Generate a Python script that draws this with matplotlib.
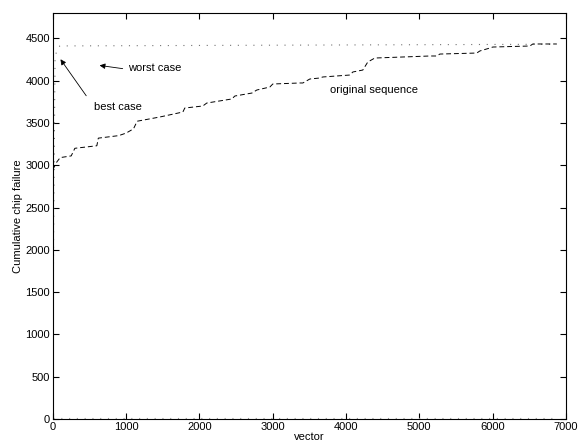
import matplotlib.pyplot as plt

plt.rcParams['font.family'] = ['Liberation Sans', 'DejaVu Sans']

# original sequence
orig_x = [0, 55, 100, 250, 300, 600, 620, 900, 1000, 1100, 1150, 1460, 1774, 1800, 2046,
          2100, 2442, 2483, 2715, 2783, 2960, 3001, 3370, 3411, 3506, 3643, 3683, 4052,
          4093, 4229, 4297, 4393, 5143, 5239, 5280, 5784, 5825, 5962, 6003, 6508, 6549, 6876]
orig_y = [2950, 3040, 3090, 3110, 3200, 3230, 3320, 3350, 3380, 3430, 3520, 3570, 3629, 3676, 3700,
          3735, 3783, 3818, 3853, 3889, 3924, 3960, 3972, 3972, 4019, 4031, 4043, 4066,
          4102, 4125, 4220, 4267, 4291, 4291, 4314, 4326, 4350, 4385, 4397, 4409, 4433, 4433]

# best case climbs right away, worst case stays near the bottom
best_x = [0, 10, 30, 95, 6876]
best_y = [0, 2200, 4300, 4410, 4430]
worst_x = [0, 6876]
worst_y = [10, 10]

fig = plt.figure(figsize=(5.81, 4.46), dpi=100)
ax = fig.add_axes([0.091, 0.0605, 0.883, 0.9105])

ax.plot(worst_x, worst_y, linestyle=(0, (1, 6)), color='0.6', linewidth=0.8)
ax.plot(best_x, best_y, linestyle=(0, (1, 6)), color='0.45', linewidth=0.8)
ax.plot(orig_x, orig_y, linestyle=(0, (5, 3)), color='black', linewidth=0.7)

ax.set_xlim(0, 7000)
ax.set_ylim(0, 4800)
ax.set_xticks(range(0, 7001, 1000))
ax.set_yticks(range(0, 4501, 500))
ax.tick_params(direction='in', top=True, right=True, labelsize=8, length=4, pad=2)
ax.set_xlabel('vector', fontsize=8, labelpad=0)
ax.set_ylabel('Cumulative chip failure', fontsize=8, labelpad=2)

arrow = dict(arrowstyle='-|>', color='black', lw=0.6, mutation_scale=8)
ax.annotate('', xy=(600, 4184), xytext=(990, 4137), arrowprops=arrow)
ax.text(1023, 4149, 'worst case', fontsize=8, va='center')
ax.annotate('', xy=(82, 4279), xytext=(477, 3794), arrowprops=arrow)
ax.text(559, 3688, 'best case', fontsize=8, va='center')
ax.text(3779, 3889, 'original sequence', fontsize=8, va='center')

fig.savefig('out.png', dpi=100)
